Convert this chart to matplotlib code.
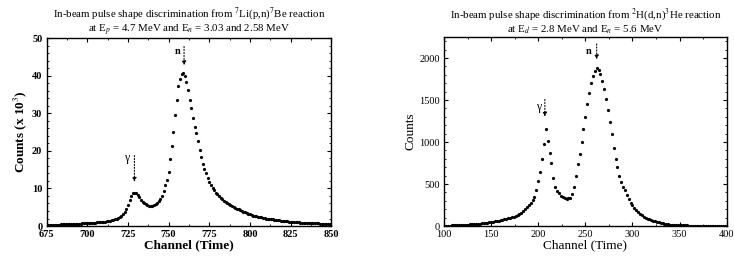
import numpy as np
import matplotlib
matplotlib.use("Agg")
import matplotlib.pyplot as plt
from matplotlib.ticker import MultipleLocator

plt.rcParams['font.family'] = ['Liberation Serif', 'DejaVu Serif']
plt.rcParams['mathtext.fontset'] = 'stix'

# left panel: 7Li(p,n)7Be, counts in units of 10^3, one point per channel
li_channel = np.arange(675, 851)
li_counts = [
    0.30, 0.31, 0.32, 0.33, 0.34, 0.35, 0.36, 0.38, 0.40, 0.42,
    0.44, 0.46, 0.48, 0.50, 0.52, 0.54, 0.56, 0.58, 0.60, 0.62,
    0.64, 0.66, 0.68, 0.70, 0.72, 0.75, 0.78, 0.81, 0.84, 0.88,
    0.92, 0.96, 1.00, 1.05, 1.10, 1.15, 1.20, 1.27, 1.34, 1.42,
    1.50, 1.62, 1.75, 1.95, 2.15, 2.35, 2.70, 3.10, 3.70, 4.40,
    5.70, 7.00, 8.00, 8.70, 8.90, 8.70, 8.20, 7.60, 7.00, 6.50,
    6.10, 5.80, 5.50, 5.30, 5.30, 5.40, 5.60, 5.90, 6.20, 6.60,
    7.20, 8.00, 9.20, 10.8, 12.3, 14.5, 17.8, 21.3, 25.0, 29.6,
    33.5, 37.2, 39.2, 40.4, 40.6, 39.8, 38.4, 36.1, 33.5, 31.3,
    28.8, 26.4, 24.7, 22.5, 20.3, 18.4, 16.6, 15.2, 14.0, 12.8,
    11.8, 10.8, 10.1, 9.5, 8.9, 8.4, 7.9, 7.5, 7.1, 6.7,
    6.4, 6.1, 5.8, 5.5, 5.3, 5.0, 4.8, 4.6, 4.4, 4.2,
    4.0, 3.8, 3.6, 3.4, 3.3, 3.1, 2.95, 2.8, 2.7, 2.6,
    2.5, 2.4, 2.3, 2.2, 2.1, 2.0, 1.95, 1.9, 1.8, 1.75,
    1.7, 1.6, 1.55, 1.5, 1.45, 1.4, 1.35, 1.3, 1.25, 1.2,
    1.15, 1.1, 1.05, 1.0, 0.98, 0.95, 0.92, 0.9, 0.87, 0.85,
    0.82, 0.8, 0.78, 0.76, 0.74, 0.72, 0.7, 0.68, 0.66, 0.64,
    0.62, 0.6, 0.58, 0.56, 0.55, 0.54,
]

# right panel: 2H(d,n)3He, every second channel
dd_channel = np.arange(100, 401, 2)
dd_counts = [
    5, 5, 6, 6, 7, 8, 8, 9, 10, 11,
    12, 13, 15, 17, 20, 22, 24, 26, 28, 30,
    32, 35, 38, 41, 44, 48, 51, 55, 60, 65,
    70, 76, 82, 88, 94, 100, 106, 112, 120, 130,
    145, 160, 180, 200, 225, 250, 275, 305, 345, 430,
    540, 640, 800, 980, 1150, 1010, 870, 750, 570, 470,
    420, 390, 360, 345, 330, 325, 328, 335, 380, 470,
    600, 740, 860, 1000, 1150, 1300, 1450, 1580, 1700, 1790,
    1850, 1880, 1860, 1810, 1730, 1630, 1510, 1380, 1240, 1090,
    930, 800, 700, 600, 530, 470, 430, 375, 320, 280,
    245, 215, 190, 165, 145, 128, 113, 100, 88, 78,
    70, 62, 55, 48, 42, 37, 32, 28, 24, 21,
    18, 16, 14, 12, 11, 10, 9, 8, 7, 7,
    6, 6, 5, 5, 5, 4, 4, 4, 4, 3,
    3, 3, 3, 3, 3, 3, 2, 2, 2, 2,
    2,
]

li_title = ("In-beam pulse shape discrimination from $^7$Li(p,n)$^7$Be reaction\n"
            "at E$_p$ = 4.7 MeV and E$_n$ = 3.03 and 2.58 MeV")
dd_title = ("In-beam pulse shape discrimination from $^2$H(d,n)$^3$He reaction\n"
            "at E$_d$ = 2.8 MeV and E$_n$ = 5.6 MeV")


def style_axes(ax):
    ax.tick_params(which='both', direction='in', top=True, right=True,
                   labelsize=7.5)
    ax.tick_params(axis='x', pad=3)
    ax.tick_params(axis='y', pad=3)
    ax.tick_params(which='major', length=3, width=0.8)
    ax.tick_params(which='minor', length=1.5, width=0.6)
    for s in ax.spines.values():
        s.set_linewidth(1.0)


def arrow(ax, x, y_top, y_tip):
    ax.annotate('', xy=(x, y_tip), xytext=(x, y_top),
                arrowprops=dict(arrowstyle='-|>', color='black', lw=0.8,
                                mutation_scale=6, linestyle=':'))


fig = plt.figure(figsize=(7.34, 2.61), dpi=100)

ax1 = fig.add_axes([0.0634, 0.134, 0.388, 0.720])
ax1.plot(li_channel, li_counts, 'o', color='black', ms=2.3, mec='none')
ax1.set_xlim(675, 850)
ax1.set_ylim(0, 50)
ax1.xaxis.set_major_locator(MultipleLocator(25))
ax1.xaxis.set_minor_locator(MultipleLocator(12.5))
ax1.yaxis.set_major_locator(MultipleLocator(10))
ax1.yaxis.set_minor_locator(MultipleLocator(2))
style_axes(ax1)
for lab in ax1.get_xticklabels() + ax1.get_yticklabels():
    lab.set_fontweight('bold')
ax1.set_xlabel('Channel (Time)', fontsize=9.5, fontweight='bold', labelpad=0)
ax1.set_ylabel('Counts (x 10$^3$)', fontsize=9.5, fontweight='bold', labelpad=2)
ax1.set_title(li_title, fontsize=7.8, linespacing=1.1, pad=3)
arrow(ax1, 729, 19.5, 11.0)
ax1.text(726, 18.0, '\u03b3', fontsize=8.5, ha='right', va='center')
arrow(ax1, 759.5, 48.5, 42.0)
ax1.text(757, 46.5, 'n', fontsize=7.5, fontweight='bold', ha='right', va='center')

ax2 = fig.add_axes([0.605, 0.134, 0.385, 0.724])
ax2.plot(dd_channel, dd_counts, 'o', color='black', ms=2.3, mec='none')
ax2.set_xlim(100, 400)
ax2.set_ylim(0, 2250)
ax2.xaxis.set_major_locator(MultipleLocator(50))
ax2.xaxis.set_minor_locator(MultipleLocator(25))
ax2.yaxis.set_major_locator(MultipleLocator(500))
ax2.yaxis.set_minor_locator(MultipleLocator(100))
style_axes(ax2)
ax2.set_xlabel('Channel (Time)', fontsize=9.5, labelpad=0)
ax2.set_ylabel('Counts', fontsize=9.5, labelpad=2)
ax2.set_title(dd_title, fontsize=7.8, linespacing=1.1, pad=3)
arrow(ax2, 207, 1540, 1270)
ax2.text(203, 1420, '\u03b3', fontsize=8.5, ha='right', va='center')
arrow(ax2, 262, 2200, 1950)
ax2.text(256, 2080, 'n', fontsize=7.5, fontweight='bold', ha='right', va='center')

fig.savefig('out.png', dpi=100)
